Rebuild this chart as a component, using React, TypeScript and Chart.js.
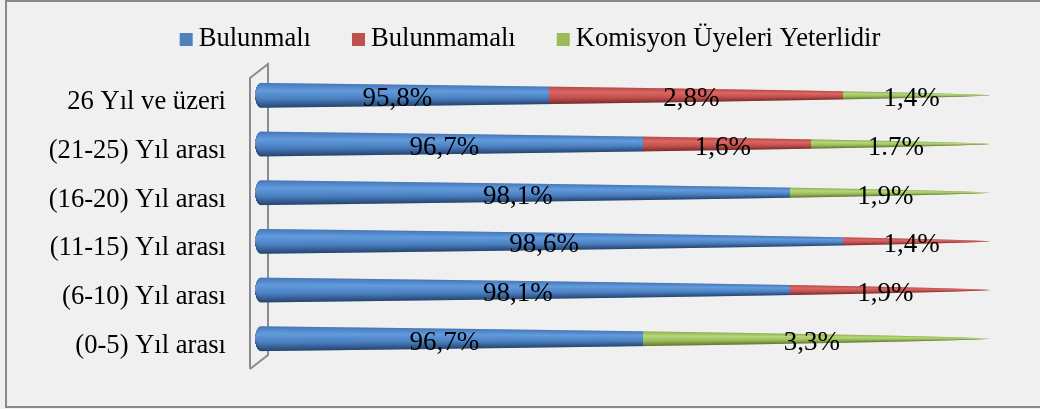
import React, { useEffect, useRef } from "react";
import { Chart, registerables } from "chart.js";
Chart.register(...registerables);

// ---- data ----
const categories = [
  "26 Yıl ve üzeri",
  "(21-25) Yıl arası",
  "(16-20) Yıl arası",
  "(11-15) Yıl arası",
  "(6-10) Yıl arası",
  "(0-5) Yıl arası",
];
const seriesNames = ["Bulunmalı", "Bulunmamalı", "Komisyon Üyeleri Yeterlidir"];
const bulunmali = [95.8, 96.7, 98.1, 98.6, 98.1, 96.7];
const bulunmamali = [2.8, 1.6, 0, 1.4, 1.9, 0];
const komisyon = [1.4, 1.7, 1.9, 0, 0, 3.3];
const bulunmaliLabels = ["95,8%", "96,7%", "98,1%", "98,6%", "98,1%", "96,7%"];
const bulunmamaliLabels = ["2,8%", "1,6%", "", "1,4%", "1,9%", ""];
const komisyonLabels = ["1,4%", "1.7%", "1,9%", "", "", "3,3%"];
const axisMin = 93;
const axisMax = 100;

// ---- styles ----
const FONT = '"Liberation Serif", "Times New Roman", serif';
const legendColors = ["#4F81BD", "#C0504D", "#9BBB59"];
const shadeStops = [
  ["#4677b8", "#629bdd", "#4a7fc0", "#24446f"],
  ["#b54a47", "#dc6662", "#c0504d", "#7a2c2a"],
  ["#8fb050", "#b6d77a", "#9bbb59", "#5f772d"],
];
const dataLabelSets = [bulunmaliLabels, bulunmamaliLabels, komisyonLabels];

const conePlugin = {
  id: "cones",
  beforeDraw(chart: any) {
    const ctx = chart.ctx;
    ctx.save();
    ctx.fillStyle = "#F0F0F0";
    ctx.fillRect(0, 0, chart.width, chart.height);
    ctx.strokeStyle = "#8a8a8a";
    ctx.lineWidth = 2;
    ctx.strokeRect(6, 1, chart.width + 10, chart.height - 3);
    ctx.restore();
  },
  beforeDatasetsDraw(chart: any) {
    const ctx = chart.ctx;
    const a = chart.chartArea;
    ctx.save();
    ctx.strokeStyle = "#8c8c8c";
    ctx.lineWidth = 2;
    ctx.lineJoin = "miter";
    ctx.beginPath();
    ctx.moveTo(a.left - 6, a.bottom + 6);
    ctx.lineTo(a.left - 6, a.top + 7);
    ctx.lineTo(a.left + 12, a.top - 7);
    ctx.lineTo(a.left + 12, a.bottom - 8);
    ctx.lineTo(a.left - 6, a.bottom + 6);
    ctx.stroke();
    ctx.restore();
  },
  afterDatasetsDraw(chart: any) {
    const ctx = chart.ctx;
    const a = chart.chartArea;
    const xs = chart.scales.x;
    const L = a.left - 1;
    const tip = xs.getPixelForValue(axisMax);
    const R = 12.5;
    const capW = 6;
    const radius = (x: number) => {
      const t = Math.max(0, (tip - x) / (tip - L));
      let r = R * Math.pow(t, 0.7);
      if (x < L + capW) {
        const u = (L + capW - x) / capW;
        r = r * Math.sqrt(Math.max(0, 1 - u * u));
      }
      return r;
    };
    ctx.save();
    chart.data.datasets.forEach((ds: any, di: number) => {
      const meta = chart.getDatasetMeta(di);
      meta.data.forEach((el: any, j: number) => {
        if (!ds.data[j]) return;
        const p = el.getProps(["x", "base", "y"], true);
        const x0 = Math.max(L, Math.min(p.x, p.base));
        const x1 = Math.min(tip, Math.max(p.x, p.base));
        const cy = p.y;
        const st = shadeStops[di];
        for (let x = Math.floor(x0); x < x1; x++) {
          const r = radius(x + 0.5);
          if (r <= 0.05) continue;
          const g = ctx.createLinearGradient(0, cy - r, 0, cy + r);
          g.addColorStop(0, st[0]);
          g.addColorStop(0.3, st[1]);
          g.addColorStop(0.65, st[2]);
          g.addColorStop(1, st[3]);
          ctx.fillStyle = g;
          const w = Math.min(1.2, x1 - x);
          ctx.fillRect(x, cy - r, w, 2 * r);
        }
      });
    });
    // data labels
    ctx.fillStyle = "#000";
    ctx.font = `27px ${FONT}`;
    ctx.textAlign = "center";
    ctx.textBaseline = "middle";
    chart.data.datasets.forEach((ds: any, di: number) => {
      const meta = chart.getDatasetMeta(di);
      meta.data.forEach((el: any, j: number) => {
        const txt = dataLabelSets[di][j];
        if (!ds.data[j] || !txt) return;
        const p = el.getProps(["x", "base", "y"], true);
        const x0 = Math.max(L, Math.min(p.x, p.base));
        const x1 = Math.min(tip, Math.max(p.x, p.base));
        ctx.fillText(txt, (x0 + x1) / 2 - 5, p.y + 4);
      });
    });
    ctx.restore();
  },
  afterDraw(chart: any) {
    const ctx = chart.ctx;
    ctx.save();
    ctx.font = `26.6px ${FONT}`;
    ctx.textBaseline = "middle";
    ctx.textAlign = "left";
    const box = 13;
    const gapText = 6;
    const gapItem = 41;
    const widths = seriesNames.map((n) => ctx.measureText(n).width);
    const total =
      widths.reduce((s, w) => s + box + gapText + w, 0) + gapItem * (seriesNames.length - 1);
    let x = 530 - total / 2;
    const cy = 39.5;
    seriesNames.forEach((n, i) => {
      ctx.fillStyle = legendColors[i];
      ctx.fillRect(x, cy - box / 2, box, box);
      ctx.fillStyle = "#000";
      ctx.fillText(n, x + box + gapText, cy);
      x += box + gapText + widths[i] + gapItem;
    });
    ctx.restore();
  },
};

export default function App() {
  const ref = useRef<HTMLCanvasElement | null>(null);
  useEffect(() => {
    document.body.style.margin = "0";
    document.body.style.background = "#F0F0F0";
    const canvas = ref.current;
    if (!canvas) return;
    const chart = new Chart(canvas, {
      type: "bar",
      data: {
        labels: categories,
        datasets: [
          { label: seriesNames[0], data: bulunmali, backgroundColor: "rgba(0,0,0,0)", borderWidth: 0 },
          { label: seriesNames[1], data: bulunmamali, backgroundColor: "rgba(0,0,0,0)", borderWidth: 0 },
          { label: seriesNames[2], data: komisyon, backgroundColor: "rgba(0,0,0,0)", borderWidth: 0 },
        ],
      },
      options: {
        indexAxis: "y",
        responsive: false,
        animation: false,
        devicePixelRatio: 1,
        layout: { padding: { left: 0, right: 50, top: 71, bottom: 38 } },
        plugins: {
          legend: { display: false },
          tooltip: { enabled: false },
        },
        scales: {
          x: {
            display: false,
            stacked: true,
            min: axisMin,
            max: axisMax,
          },
          y: {
            stacked: true,
            grid: { display: false, drawTicks: false },
            border: { display: false },
            ticks: {
              color: "#000",
              font: { family: FONT, size: 26.6 },
              padding: 30,
              labelOffset: 7,
              autoSkip: false,
            },
            afterFit(scale: any) {
              scale.width = 256;
            },
          },
        },
      },
      plugins: [conePlugin],
    } as any);
    return () => chart.destroy();
  }, []);
  return (
    <div style={{ width: 1040, height: 409, position: "relative", background: "#F0F0F0" }}>
      <canvas ref={ref} width={1040} height={409} style={{ display: "block", width: 1040, height: 409 }} />
    </div>
  );
}
